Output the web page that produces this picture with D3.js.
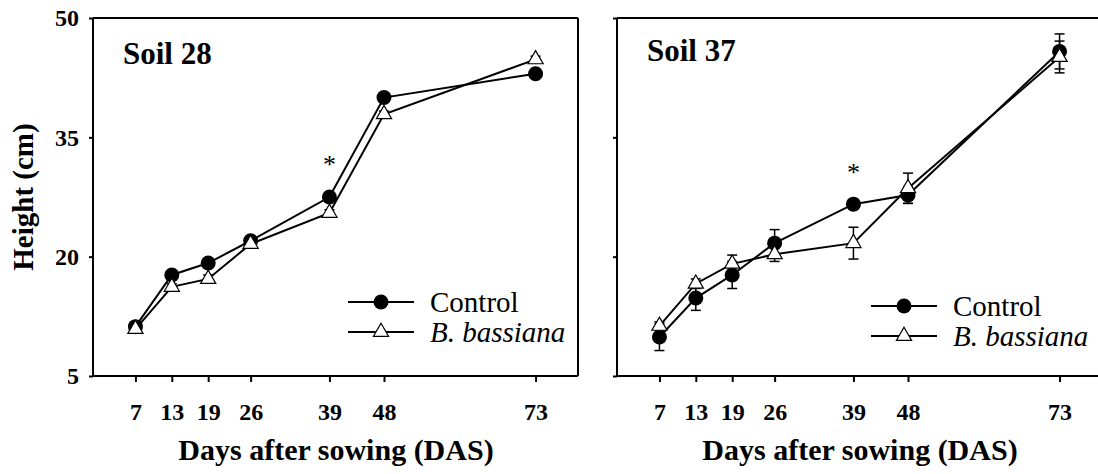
<!DOCTYPE html>
<html><head><meta charset="utf-8">
<script src="https://cdn.jsdelivr.net/npm/d3@7"></script>
<style>html,body{margin:0;padding:0;background:#fff;}svg{display:block;}</style>
</head><body>
<script>
const days = [7, 13, 19, 26, 39, 48, 73];
const yTicks = [5, 20, 35, 50];
const soil28Control = [11.2, 17.7, 19.2, 22.0, 27.5, 40.0, 43.0];
const soil28ControlErr = [0.3, 0.4, 0.4, 0.3, 0.4, 0.3, 0.4];
const soil28Bassiana = [10.9, 16.2, 17.2, 21.6, 25.5, 37.9, 44.8];
const soil28BassianaErr = [0.3, 0.4, 0.5, 0.3, 0.4, 0.4, 0.4];
const soil37Control = [9.9, 14.8, 17.7, 21.7, 26.6, 27.75, 45.8];
const soil37ControlErr = [1.7, 1.55, 1.7, 1.7, 0.5, 1.05, 2.2];
const soil37Bassiana = [11.3, 16.6, 19.1, 20.3, 21.7, 28.6, 45.1];
const soil37BassianaErr = [0.5, 0.6, 1.1, 0.9, 2.0, 1.9, 2.0];
const seriesNames = ["Control", "B. bassiana"];
const panelTitles = ["Soil 28", "Soil 37"];
const starDay = 39;

const W = 1098, H = 474;
const svg = d3.select("body").append("svg").attr("width", W).attr("height", H);
const serif = "'Liberation Serif','Times New Roman',serif";

const y = d3.scaleLinear().domain([5, 50]).range([376, 18]);

function panel(x0, x1, title, ctrl, ctrlErr, bass, bassErr, showYLabels, legendX, legendY, soilY, starY) {
  const x = d3.scaleLinear().domain([0, 80]).range([x0, x1]);
  const g = svg.append("g");
  g.append("line").attr("x1", x0).attr("x2", x1).attr("y1", y(50)).attr("y2", y(50)).attr("stroke", "#000").attr("stroke-width", 2);
  g.append("line").attr("x1", x1).attr("x2", x1).attr("y1", y(50)).attr("y2", y(5)).attr("stroke", "#000").attr("stroke-width", 2);
  const yAx = d3.axisLeft(y).tickValues(yTicks).tickSize(4).tickFormat(showYLabels ? d3.format("d") : "");
  const ga = g.append("g").attr("transform", `translate(${x0},0)`).call(yAx);
  ga.select(".domain").attr("stroke-width", 2).attr("d", `M-0,${y(50)}V${y(5)}`);
  ga.selectAll(".tick line").attr("stroke-width", 2);
  ga.selectAll(".tick text").attr("font-family", serif).attr("font-weight", "bold").attr("font-size", 24).attr("fill", "#000").attr("x", -14);
  const xAx = d3.axisBottom(x).tickValues(days).tickSize(6).tickFormat(d3.format("d"));
  const gx = g.append("g").attr("transform", `translate(0,${y(5)})`).call(xAx);
  gx.select(".domain").attr("stroke-width", 2).attr("d", `M${x0},0H${x1}`);
  gx.selectAll(".tick line").attr("stroke-width", 2);
  gx.selectAll(".tick text").attr("font-family", serif).attr("font-weight", "bold").attr("font-size", 24).attr("fill", "#000").attr("y", 36).attr("dy", "0.35em");
  g.append("text").attr("x", x0 + 243).attr("y", 460)
    .attr("text-anchor", "middle").attr("font-family", serif).attr("font-weight", "bold").attr("font-size", 30)
    .text("Days after sowing (DAS)");
  g.append("text").attr("x", x0 + 30).attr("y", soilY).attr("font-family", serif).attr("font-weight", "bold").attr("font-size", 31).text(title);

  const clip = g.append("g");
  const line = d3.line().x((d, i) => x(days[i])).y(d => y(d));
  function errbars(vals, errs) {
    vals.forEach((v, i) => {
      const cx = x(days[i]);
      const t = y(v + errs[i]), b = y(v - errs[i]);
      clip.append("line").attr("x1", cx).attr("x2", cx).attr("y1", t).attr("y2", b).attr("stroke", "#000").attr("stroke-width", 1.5);
      [t, b].forEach(yy => clip.append("line").attr("x1", cx - 5).attr("x2", cx + 5).attr("y1", yy).attr("y2", yy).attr("stroke", "#000").attr("stroke-width", 1.5));
    });
  }
  const tri = d3.symbol().type(d3.symbolTriangle).size(100);
  errbars(ctrl, ctrlErr);
  clip.append("path").attr("d", line(ctrl)).attr("fill", "none").attr("stroke", "#000").attr("stroke-width", 2);
  clip.selectAll(".c").data(ctrl).enter().append("circle").attr("cx", (d, i) => x(days[i])).attr("cy", d => y(d)).attr("r", 7.5).attr("fill", "#000");
  errbars(bass, bassErr);
  clip.append("path").attr("d", line(bass)).attr("fill", "none").attr("stroke", "#000").attr("stroke-width", 2);
  clip.selectAll(".t").data(bass).enter().append("path").attr("d", tri).attr("transform", (d, i) => `translate(${x(days[i])},${y(d)})`).attr("fill", "#fff").attr("stroke", "#000").attr("stroke-width", 1.2);
  g.append("text").attr("x", x(starDay)).attr("y", starY).attr("text-anchor", "middle").attr("font-family", serif).attr("font-size", 26).text("*");
  const lg = g.append("g").attr("transform", `translate(${legendX},${legendY})`);
  lg.append("line").attr("x1", 0).attr("x2", 66).attr("y1", 0).attr("y2", 0).attr("stroke", "#000").attr("stroke-width", 2);
  lg.append("circle").attr("cx", 33).attr("cy", 0).attr("r", 7.5).attr("fill", "#000");
  lg.append("text").attr("x", 82).attr("y", 10).attr("font-family", serif).attr("font-size", 29).text(seriesNames[0]);
  lg.append("line").attr("x1", 0).attr("x2", 66).attr("y1", 30).attr("y2", 30).attr("stroke", "#000").attr("stroke-width", 2);
  lg.append("path").attr("d", tri).attr("transform", "translate(33,30)").attr("fill", "#fff").attr("stroke", "#000").attr("stroke-width", 1.2);
  lg.append("text").attr("x", 82).attr("y", 40).attr("font-family", serif).attr("font-style", "italic").attr("font-size", 29).text(seriesNames[1]);
}

panel(93, 578, panelTitles[0], soil28Control, soil28ControlErr, soil28Bassiana, soil28BassianaErr, true, 348, 302, 64, 173);
panel(617, 1102, panelTitles[1], soil37Control, soil37ControlErr, soil37Bassiana, soil37BassianaErr, false, 871, 306, 61, 181);

svg.append("text").attr("transform", "translate(33,197) rotate(-90)").attr("text-anchor", "middle")
  .attr("font-family", serif).attr("font-weight", "bold").attr("font-size", 29).text("Height (cm)");
</script>
</body></html>
